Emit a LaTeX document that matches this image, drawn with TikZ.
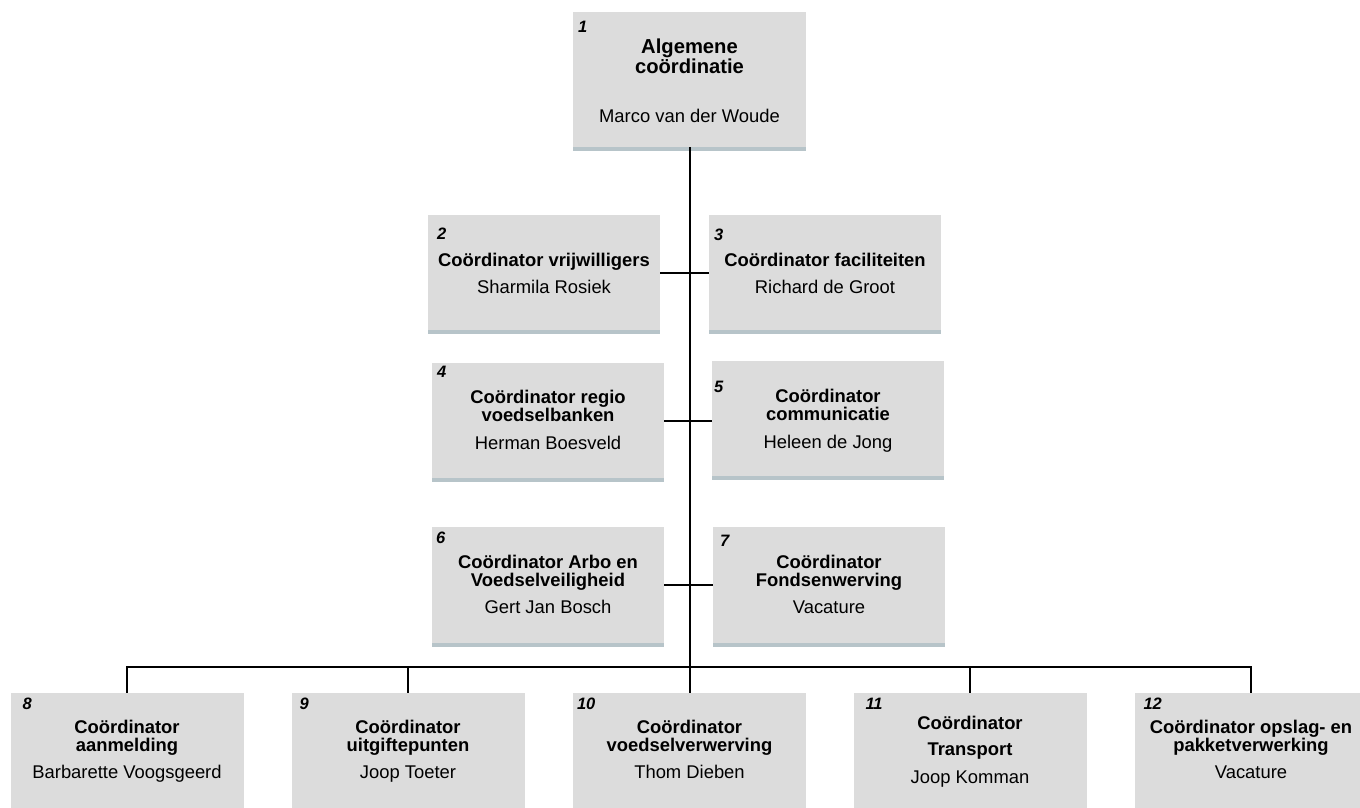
\documentclass[tikz,border=0pt]{standalone}
\usepackage{fontspec}
\setmainfont{Liberation Sans}
\usetikzlibrary{shadows}
\definecolor{boxfill}{RGB}{220,220,220}
\definecolor{shadowcol}{RGB}{112,138,148}

\begin{document}
\begin{tikzpicture}[x=1pt,y=-1pt,
  orgbox/.style={rectangle, fill=boxfill, inner sep=0pt, minimum width=232pt, minimum height=115pt,
    drop shadow={shadow xshift=0pt, shadow yshift=-4pt, fill=shadowcol, opacity=0.5}},
  numlabel/.style={anchor=base west, inner sep=0pt, font=\fontsize{16.5}{16.5}\selectfont\bfseries\itshape},
  titlelabel/.style={anchor=base, inner sep=0pt, align=center, font=\fontsize{18.4}{18}\selectfont\bfseries},
  namelabel/.style={anchor=base, inner sep=0pt, font=\fontsize{18.4}{18}\selectfont},
  link/.style={draw=black, line width=2pt}]
\useasboundingbox (0,0) rectangle (1360,807);

\node[orgbox, minimum width=233pt, minimum height=135pt] (b1) at (689.5,79.5) {};
\node[orgbox] (b2) at (544,272.5) {};
\node[orgbox] (b3) at (825,272.5) {};
\node[orgbox] (b4) at (548,420.5) {};
\node[orgbox] (b5) at (828,418.5) {};
\node[orgbox, minimum height=116pt] (b6) at (548,585) {};
\node[orgbox, minimum height=116pt] (b7) at (829,585) {};
\node[orgbox, minimum width=233pt, minimum height=132pt] (b8) at (127,759) {};
\node[orgbox, minimum width=233pt, minimum height=132pt] (b9) at (408,759) {};
\node[orgbox, minimum width=233pt, minimum height=132pt] (b10) at (689.5,759) {};
\node[orgbox, minimum width=233pt, minimum height=132pt] (b11) at (970,759) {};
\node[orgbox, minimum width=233pt, minimum height=132pt] (b12) at (1251,759) {};

\coordinate (bus) at (689.5,667);
\draw[link] (b1.south) -- (b1.south |- bus);
\draw[link] (b8.north) -- (b8.north |- bus) -- (b12.north |- bus) -- (b12.north);
\foreach \k in {9,10,11}
  \draw[link] (b\k.north) -- (b\k.north |- bus);
\draw[link] (b2.east) -- (b3.west);
\draw[link] (b4.east) -- (b4.east -| b5.west);
\draw[link] (b6.east) -- (b7.west);

\node[numlabel] (n1) at ([shift={(5,21)}]b1.north west) {1};
\node[numlabel] (n2) at ([shift={(9,25)}]b2.north west) {2};
\node[numlabel] (n3) at ([shift={(5,26)}]b3.north west) {3};
\node[numlabel] (n4) at ([shift={(5,15)}]b4.north west) {4};
\node[numlabel] (n5) at ([shift={(2,32)}]b5.north west) {5};
\node[numlabel] (n6) at ([shift={(4,17)}]b6.north west) {6};
\node[numlabel] (n7) at ([shift={(7,20)}]b7.north west) {7};
\node[numlabel] (n8) at ([shift={(12,17)}]b8.north west) {8};
\node[numlabel] (n9) at ([shift={(8,17)}]b9.north west) {9};
\node[numlabel] (n10) at ([shift={(4,17)}]b10.north west) {10};
\node[numlabel] (n11) at ([shift={(12,17)}]b11.north west) {11};
\node[numlabel] (n12) at ([shift={(9,17)}]b12.north west) {12};

\node[titlelabel, font=\fontsize{20.2}{20}\selectfont\bfseries] (t1) at (689.5,73) {Algemene\\coördinatie};
\node[namelabel] (p1) at (689.5,122) {Marco van der Woude};
\node[titlelabel] (t2) at (544,266) {Coördinator vrijwilligers};
\node[namelabel] (p2) at (544,293) {Sharmila Rosiek};
\node[titlelabel] (t3) at (825,266) {Coördinator faciliteiten};
\node[namelabel] (p3) at (825,293) {Richard de Groot};
\node[titlelabel] (t4) at (548,421) {Coördinator regio\\voedselbanken};
\node[namelabel] (p4) at (548,449) {Herman Boesveld};
\node[titlelabel] (t5) at (828,420) {Coördinator\\communicatie};
\node[namelabel] (p5) at (828,448) {Heleen de Jong};
\node[titlelabel] (t6) at (548,586) {Coördinator Arbo en\\Voedselveiligheid};
\node[namelabel] (p6) at (548,613) {Gert Jan Bosch};
\node[titlelabel] (t7) at (829,586) {Coördinator\\Fondsenwerving};
\node[namelabel] (p7) at (829,613) {Vacature};
\node[titlelabel] (t8) at (127,751) {Coördinator\\aanmelding};
\node[namelabel] (p8) at (127,778) {Barbarette Voogsgeerd};
\node[titlelabel] (t9) at (408,751) {Coördinator\\uitgiftepunten};
\node[namelabel] (p9) at (408,778) {Joop Toeter};
\node[titlelabel] (t10) at (689.5,751) {Coördinator\\voedselverwerving};
\node[namelabel] (p10) at (689.5,778) {Thom Dieben};
\node[titlelabel] (t11) at (970,755) {Coördinator\\[8pt]Transport};
\node[namelabel] (p11) at (970,783) {Joop Komman};
\node[titlelabel] (t12) at (1251,751) {Coördinator opslag- en\\pakketverwerking};
\node[namelabel] (p12) at (1251,778) {Vacature};
\end{tikzpicture}
\end{document}
